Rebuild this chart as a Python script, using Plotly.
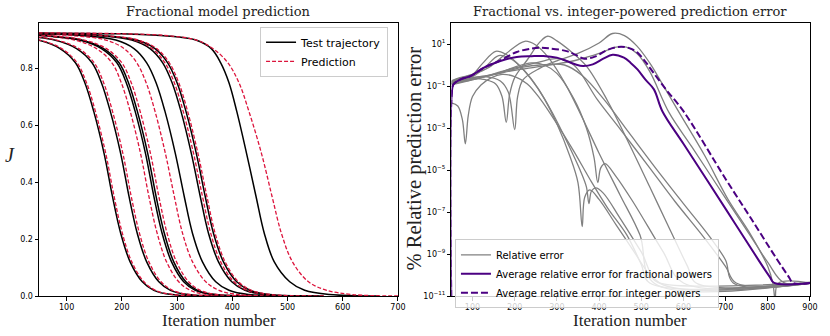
# =================================================
# FRACTIONAL MODEL — PREDICTION VS ERROR (2 PANELS)
# =================================================

import numpy as np
import plotly.graph_objects as go


# -------------------------------------------------
# LEFT PANEL DATA — J levels and iteration at which each curve hits them
# -------------------------------------------------
J_LEVELS = [0.926, 0.922, 0.915, 0.90, 0.87, 0.82, 0.75, 0.65, 0.50, 0.35, 0.22, 0.12, 0.05, 0.02, 0.005, 0.0]

test_A = [-300, -92, -12, 48, 88, 116, 133, 149, 168, 183, 198, 215, 237, 258, 290, 388]
test_B = [-300, -62, 18, 78, 118, 146, 163, 179, 198, 213, 228, 245, 267, 288, 320, 418]
test_C = [-250, -17, 63, 123, 163, 191, 208, 224, 243, 258, 273, 290, 312, 333, 365, 463]
test_D = [-250, -13, 67, 127, 167, 195, 212, 228, 247, 262, 277, 294, 316, 337, 369, 467]
test_E = [-60, 47, 132, 189, 222, 245, 262, 278, 297, 313, 328, 346, 370, 394, 429, 527]
test_F = [-60, 76, 161, 218, 251, 274, 291, 307, 326, 342, 357, 375, 399, 423, 458, 556]
test_G = [-60, 85, 170, 227, 260, 283, 300, 316, 335, 351, 366, 384, 408, 432, 467, 565]
test_H = [-60, 196, 276, 334, 362, 379, 394, 408, 426, 443, 458, 476, 504, 531, 576, 666]

pred_A = [-300, -89, -9, 51, 91, 119, 136, 152, 171, 186, 201, 218, 240, 261, 293, 391]
pred_B = [-300, -58, 22, 82, 122, 150, 167, 183, 202, 217, 232, 249, 271, 292, 324, 422]
pred_C = [-250, -26, 54, 114, 154, 182, 199, 215, 234, 249, 264, 281, 303, 324, 356, 454]
pred_D = [-250, -8, 72, 132, 172, 200, 217, 233, 252, 267, 282, 299, 321, 342, 374, 472]
pred_E = [-60, 29, 114, 171, 204, 227, 244, 260, 279, 295, 310, 328, 352, 376, 411, 509]
pred_F = [-60, 80, 165, 222, 255, 278, 295, 311, 330, 346, 361, 379, 403, 427, 462, 560]
pred_G = [-60, 88, 173, 230, 263, 286, 303, 319, 338, 354, 369, 387, 411, 435, 470, 568]
pred_H = [-60, 205, 285, 335, 365, 392, 412, 430, 453, 472, 489, 509, 538, 571, 618, 703]

test_runs = [test_A, test_B, test_C, test_D, test_E, test_F, test_G, test_H]
pred_runs = [pred_A, pred_B, pred_C, pred_D, pred_E, pred_F, pred_G, pred_H]


# -------------------------------------------------
# RIGHT PANEL DATA — iteration / log10(% relative error)
# -------------------------------------------------
err1_x = [50, 65, 76, 83, 90, 100, 120, 145, 170, 200, 230, 260, 300, 340, 380, 420, 466, 500, 520, 900]
err1_e = [-1.8, -1.95, -2.6, -3.75, -2.4, -1.5, -0.95, -0.6, -0.45, -0.55, -0.9, -1.6, -2.8, -4.1, -5.5, -6.8, -8.1, -9.5, -10.38, -10.38]

err2_x = [50, 60, 80, 100, 125, 155, 180, 210, 240, 270, 300, 330, 350, 360, 366, 378, 400, 440, 480, 520, 540, 900]
err2_e = [-0.9, -0.72, -0.58, -0.45, 0.1, 0.65, 0.5, 0.0, -0.7, -1.6, -2.8, -4.3, -5.6, -7.7, -6.3, -5.95, -6.4, -7.6, -8.8, -10.0, -10.36, -10.36]

err3_x = [50, 70, 100, 130, 162, 190, 220, 255, 290, 325, 355, 370, 376, 382, 392, 410, 450, 500, 545, 900]
err3_e = [-0.8, -0.65, -0.55, -0.1, 0.45, 0.3, -0.2, -1.1, -2.3, -3.7, -5.0, -5.8, -6.6, -6.0, -5.85, -6.1, -7.3, -8.9, -10.4, -10.4]

err4_x = [50, 70, 100, 130, 155, 170, 180, 188, 200, 230, 260, 278, 300, 330, 370, 420, 470, 520, 560, 610, 630, 900]
err4_e = [-0.85, -0.72, -0.65, -0.7, -0.9, -1.5, -2.73, -1.4, -0.6, 0.25, 1.1, 1.37, 1.15, 0.7, -0.05, -1.7, -3.7, -5.8, -7.5, -9.6, -10.38, -10.38]

err5_x = [50, 60, 80, 100, 130, 166, 185, 200, 207, 220, 260, 300, 350, 400, 432, 460, 490, 520, 550, 590, 650, 706, 760, 800, 812, 818, 824, 900]
err5_e = [-0.8, -0.7, -0.65, -0.6, -0.55, -0.76, -1.3, -3.08, -1.5, -0.7, -0.15, 0.2, 0.55, 1.05, 1.5, 1.4, 0.9, 0.1, -0.9, -2.27, -4.3, -6.41, -8.1, -9.6, -10.4, -11.3, -10.4, -10.38]

err6_x = [50, 70, 100, 150, 200, 250, 300, 350, 400, 440, 465, 490, 520, 566, 620, 702, 760, 800, 838, 900]
err6_e = [-0.85, -0.75, -0.62, -0.45, -0.25, -0.1, 0.05, 0.25, 0.55, 0.85, 0.85, 0.55, -0.3, -2.27, -3.9, -6.41, -8.17, -9.4, -10.36, -10.36]

err7_x = [50, 80, 120, 170, 220, 260, 300, 340, 396, 450, 520, 580, 647, 700, 725, 900]
err7_e = [-0.95, -0.8, -0.6, -0.3, -0.05, 0.15, 0.3, 0.0, -1.65, -3.05, -4.9, -6.5, -8.17, -9.6, -10.38, -10.34]

err8_x = [50, 80, 120, 170, 220, 260, 318, 360, 412, 470, 530, 600, 663, 700, 718, 900]
err8_e = [-0.9, -0.75, -0.6, -0.35, -0.1, 0.0, 0.0, -0.5, -1.65, -3.2, -4.8, -6.6, -8.2, -9.3, -10.38, -10.4]

err9_x = [50, 70, 100, 140, 180, 224, 250, 280, 320, 360, 400, 450, 497, 530, 900]
err9_e = [-0.75, -0.6, -0.45, -0.1, 0.55, 1.13, 0.95, 0.35, -0.9, -2.5, -4.2, -6.2, -8.1, -10.38, -10.37]

err10_x = [50, 100, 160, 200, 240, 270, 300, 340, 370, 388, 397, 404, 414, 440, 480, 552, 600, 900]
err10_e = [-0.9, -0.7, -0.4, -0.1, 0.1, 0.0, -0.4, -1.6, -3.0, -4.4, -5.6, -4.9, -4.7, -5.3, -6.5, -8.9, -10.38, -10.39]

gray_runs = [
    (err1_x, err1_e), (err2_x, err2_e), (err3_x, err3_e), (err4_x, err4_e),
    (err5_x, err5_e), (err6_x, err6_e), (err7_x, err7_e), (err8_x, err8_e),
    (err9_x, err9_e), (err10_x, err10_e),
]

frac_x = [50, 51, 55, 72, 95, 127, 166, 205, 240, 268, 300, 323, 345, 362, 385, 410, 432, 459, 475, 491, 510, 530, 550, 600, 700, 780, 805, 815, 900]
frac_e = [-12, -1.3, -0.92, -0.68, -0.53, -0.13, 0.19, 0.38, 0.42, 0.43, 0.35, 0.19, 0.02, -0.05, 0.03, 0.3, 0.49, 0.35, 0.1, -0.21, -0.7, -1.16, -2.2, -3.75, -6.85, -9.35, -10.1, -10.38, -10.38]

int_x = [50, 51, 55, 72, 95, 127, 166, 205, 240, 260, 283, 323, 345, 365, 390, 420, 452, 475, 491, 510, 530, 560, 600, 701, 760, 820, 850, 860, 900]
int_e = [-12, -1.3, -0.92, -0.68, -0.53, -0.13, 0.22, 0.62, 0.78, 0.82, 0.79, 0.66, 0.48, 0.3, 0.4, 0.72, 0.87, 0.78, 0.59, 0.15, -0.4, -1.2, -2.2, -5.46, -7.3, -9.2, -10.1, -10.38, -10.38]


# -------------------------------------------------
# STYLE
# -------------------------------------------------
TEST_COLOR = "black"
PRED_COLOR = "#DC143C"
GRAY = "#808080"
PURPLE = "#4B0082"
SERIF = "Liberation Serif, Times New Roman, serif"
TITLE_SERIF = "DejaVu Serif, serif"
SANS = "DejaVu Sans, sans-serif"


def _axis(domain, anchor, rng, **kw):
    return dict(
        domain=domain,
        anchor=anchor,
        range=rng,
        showline=True,
        mirror=True,
        linecolor="black",
        linewidth=1,
        ticks="outside",
        ticklen=3.5,
        tickcolor="black",
        showgrid=False,
        zeroline=False,
        tickfont=dict(family=SANS, size=8, color="black"),
        **kw
    )


def _label(text, x, y, size, angle=0, family=SERIF):
    return dict(
        text=text, x=x, y=y, xref="paper", yref="paper",
        xanchor="center", yanchor="middle", showarrow=False, textangle=angle,
        font=dict(family=family, size=size, color="#222"),
    )


fig = go.Figure()

# =================================================
# LEFT — TRAJECTORIES
# =================================================
for i, (tx, px) in enumerate(zip(test_runs, pred_runs)):
    fig.add_trace(go.Scatter(
        x=tx, y=J_LEVELS, mode="lines", line_shape="spline",
        line=dict(color=TEST_COLOR, width=1.5),
        name="Test trajectory", legend="legend", showlegend=(i == 0),
        xaxis="x", yaxis="y",
    ))
    fig.add_trace(go.Scatter(
        x=px, y=J_LEVELS, mode="lines", line_shape="spline",
        line=dict(color=PRED_COLOR, width=1.3, dash="4px,2px"),
        name="Prediction", legend="legend", showlegend=(i == 0),
        xaxis="x", yaxis="y",
    ))

# =================================================
# RIGHT — RELATIVE ERROR
# =================================================
for i, (gx, ge) in enumerate(gray_runs):
    fig.add_trace(go.Scatter(
        x=gx, y=np.power(10.0, ge), mode="lines", line_shape="spline",
        line=dict(color=GRAY, width=1.3),
        name="Relative error", legend="legend2", showlegend=(i == 0),
        xaxis="x2", yaxis="y2",
    ))

fig.add_trace(go.Scatter(
    x=frac_x, y=np.power(10.0, frac_e), mode="lines", line_shape="spline",
    line=dict(color=PURPLE, width=2),
    name="Average relative error for fractional powers", legend="legend2",
    xaxis="x2", yaxis="y2",
))
fig.add_trace(go.Scatter(
    x=int_x, y=np.power(10.0, int_e), mode="lines", line_shape="spline",
    line=dict(color=PURPLE, width=2, dash="7px,3px"),
    name="Average relative error for integer powers", legend="legend2",
    xaxis="x2", yaxis="y2",
))

# -------------------------------------------------
# LAYOUT
# -------------------------------------------------
log_ticks = [1e1, 1e-1, 1e-3, 1e-5, 1e-7, 1e-9, 1e-11]
log_text = ["10<sup>1</sup>", "10<sup>−1</sup>", "10<sup>−3</sup>", "10<sup>−5</sup>",
            "10<sup>−7</sup>", "10<sup>−9</sup>", "10<sup>−11</sup>"]

legend_box = dict(
    bgcolor="rgba(255,255,255,0.8)",
    bordercolor="#cccccc",
    borderwidth=1,
    xanchor="left",
    yanchor="top",
    tracegroupgap=0,
)

fig.update_layout(
    width=830,
    height=336,
    paper_bgcolor="white",
    plot_bgcolor="white",
    margin=dict(l=39, r=12, t=23, b=40),
    xaxis=_axis([0, 0.4656], "y", [50, 700], tickvals=[100, 200, 300, 400, 500, 600, 700]),
    yaxis=_axis([0, 1], "x", [0, 0.96], tickvals=[0, 0.2, 0.4, 0.6, 0.8], tickformat=".1f"),
    xaxis2=_axis([0.5349, 1], "y2", [50, 900], tickvals=[100, 200, 300, 400, 500, 600, 700, 800, 900]),
    yaxis2=_axis([0, 1], "x2", [-11, 2], type="log", tickvals=log_ticks, ticktext=log_text),
    legend=dict(x=0.2867, y=0.986, font=dict(family=SANS, size=11, color="black"), **legend_box),
    legend2=dict(x=0.5395, y=0.2077, font=dict(family=SANS, size=10, color="black"), **legend_box),
    annotations=[
        _label("Fractional model prediction", 0.233, 1.042, 13, family=TITLE_SERIF),
        _label("Fractional vs. integer-powered prediction error", 0.767, 1.042, 13, family=TITLE_SERIF),
        _label("Iteration number", 0.233, -0.088, 17),
        _label("Iteration number", 0.767, -0.088, 17),
        _label("<i>J</i>", -0.037, 0.516, 20),
        _label("% Relative prediction error", 0.4865, 0.504, 20.5, angle=-90),
    ],
)

fig.write_html(
    "out.html",
    config={"displayModeBar": False},
    post_script="document.body.style.margin='0';",
)
